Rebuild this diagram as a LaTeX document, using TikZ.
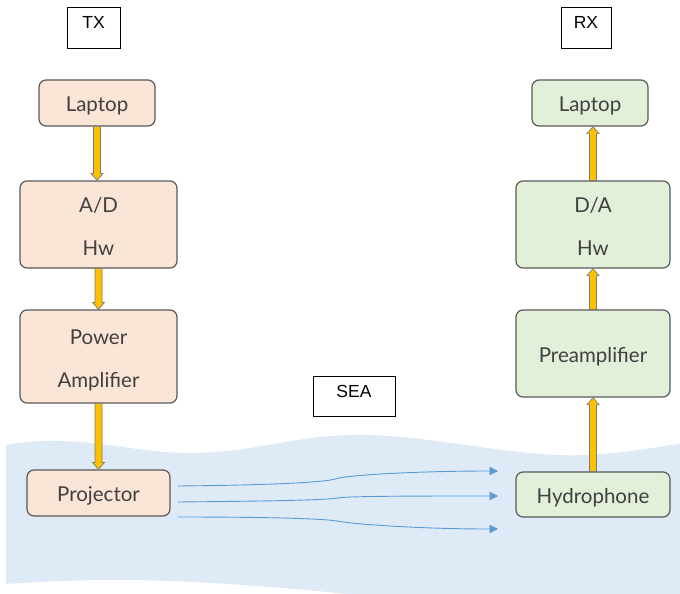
\documentclass[tikz,border=0pt]{standalone}
\usepackage{fontspec}
\setmainfont{Lato}
\newfontfamily\arialf{Liberation Sans}
\usetikzlibrary{calc,arrows.meta}
\definecolor{seablue}{HTML}{DEEBF7}
\definecolor{txfill}{HTML}{FBE5D6}
\definecolor{rxfill}{HTML}{E2F0D9}
\definecolor{boxline}{HTML}{595959}
\definecolor{txtgrey}{HTML}{404040}
\definecolor{arrowyellow}{HTML}{FFC000}
\definecolor{wave}{HTML}{5B9BD5}
\tikzset{
  blockbox/.style={draw=boxline, line width=1.2pt, rounded corners=7pt, text=txtgrey,
    font=\fontsize{20.5}{43}\selectfont, align=center, inner sep=0pt},
  oneline/.style={text height=20pt, text depth=3pt},
  twoline/.style={text height=63pt, text depth=2pt},
  txbox/.style={blockbox, fill=txfill},
  rxbox/.style={blockbox, fill=rxfill},
  tagbox/.style={draw=black, line width=0.8pt, inner sep=0pt, font=\arialf\fontsize{17.5}{20}\selectfont,
    text height=22pt, text depth=19pt},
  blk/.style={fill=arrowyellow, draw=boxline!80, line width=0.7pt},
  wavearrow/.style={draw=wave, line width=0.9pt, -{Triangle[length=8.5pt,width=8.5pt]}}
}
\newcommand\blkdown[2]{\draw[blk] let \p1=(#1.south), \p2=(#2.north) in
  (\x1-3.5pt,\y1) -- (\x1-3.5pt,\y2+7pt) -- (\x1-6pt,\y2+7pt) -- (\x1,\y2) --
  (\x1+6pt,\y2+7pt) -- (\x1+3.5pt,\y2+7pt) -- (\x1+3.5pt,\y1) -- cycle;}
\newcommand\blkup[2]{\draw[blk] let \p1=(#1.north), \p2=(#2.south) in
  (\x1-3.5pt,\y1) -- (\x1-3.5pt,\y2-7pt) -- (\x1-6pt,\y2-7pt) -- (\x1,\y2) --
  (\x1+6pt,\y2-7pt) -- (\x1+3.5pt,\y2-7pt) -- (\x1+3.5pt,\y1) -- cycle;}
\begin{document}
\begin{tikzpicture}[x=1pt,y=-1pt]
\useasboundingbox[fill=white] (0,0) rectangle (680,594);
% sea
\fill[seablue] (6,445) .. controls (80,432) and (130,454) .. (195,453)
  .. controls (260,452) and (300,433) .. (369,435)
  .. controls (440,437) and (520,458) .. (585,455)
  .. controls (630,453) and (660,446) .. (680,444)
  -- (680,594) -- (347,594)
  .. controls (250,584) and (160,579) .. (100,580)
  .. controls (50,581) and (20,583) .. (6,584) -- cycle;
% tags
\node[tagbox, minimum width=53pt] (tx) at (93.5,27.5) {TX};
\node[tagbox, minimum width=50pt] (rx) at (586,27.5) {RX};
\node[tagbox, minimum width=82pt, text height=21pt] (sea) at (354,396) {SEA};
% TX chain
\node[txbox, oneline, minimum width=116pt, minimum height=46pt] (lap1) at (97,103) {Laptop};
\node[txbox, twoline, minimum width=157pt, minimum height=87pt] (ad) at (98.5,224.5) {A/D\\Hw};
\node[txbox, twoline, minimum width=157pt, minimum height=93pt] (pa) at (98.5,356.5) {Power\\Amplifier};
\node[txbox, oneline, minimum width=143pt, minimum height=46pt] (proj) at (98.5,493) {Projector};
% RX chain
\node[rxbox, oneline, minimum width=116pt, minimum height=46pt] (lap2) at (590,103) {Laptop};
\node[rxbox, twoline, minimum width=154pt, minimum height=87pt] (da) at (593,224.5) {D/A\\Hw};
\node[rxbox, oneline, minimum width=154pt, minimum height=87pt] (pre) at (593,353.5) {Preamplifier};
\node[rxbox, oneline, minimum width=154pt, minimum height=45pt] (hyd) at (593,494.5) {Hydrophone};
% yellow arrows
\blkdown{lap1}{ad}
\blkdown{ad}{pa}
\blkdown{pa}{proj}
\blkup{hyd}{pre}
\blkup{pre}{da}
\blkup{da}{lap2}
% waves
\coordinate (w1) at (498,471);
\coordinate (w2) at (498,496);
\coordinate (w3) at (498,529);
\draw[wavearrow] ($(proj.east)+(7,-7)$) .. controls (280,485) and (325,482) .. (335,479)
  .. controls (345,475) and (420,471) .. (w1);
\draw[wavearrow] ($(proj.east)+(7,9)$) .. controls (280,501) and (325,500) .. (337,498)
  .. controls (350,496) and (420,496) .. (w2);
\draw[wavearrow] ($(proj.east)+(7,24)$) .. controls (280,517) and (325,519) .. (337,521)
  .. controls (350,524) and (420,529) .. (w3);
\end{tikzpicture}
\end{document}
